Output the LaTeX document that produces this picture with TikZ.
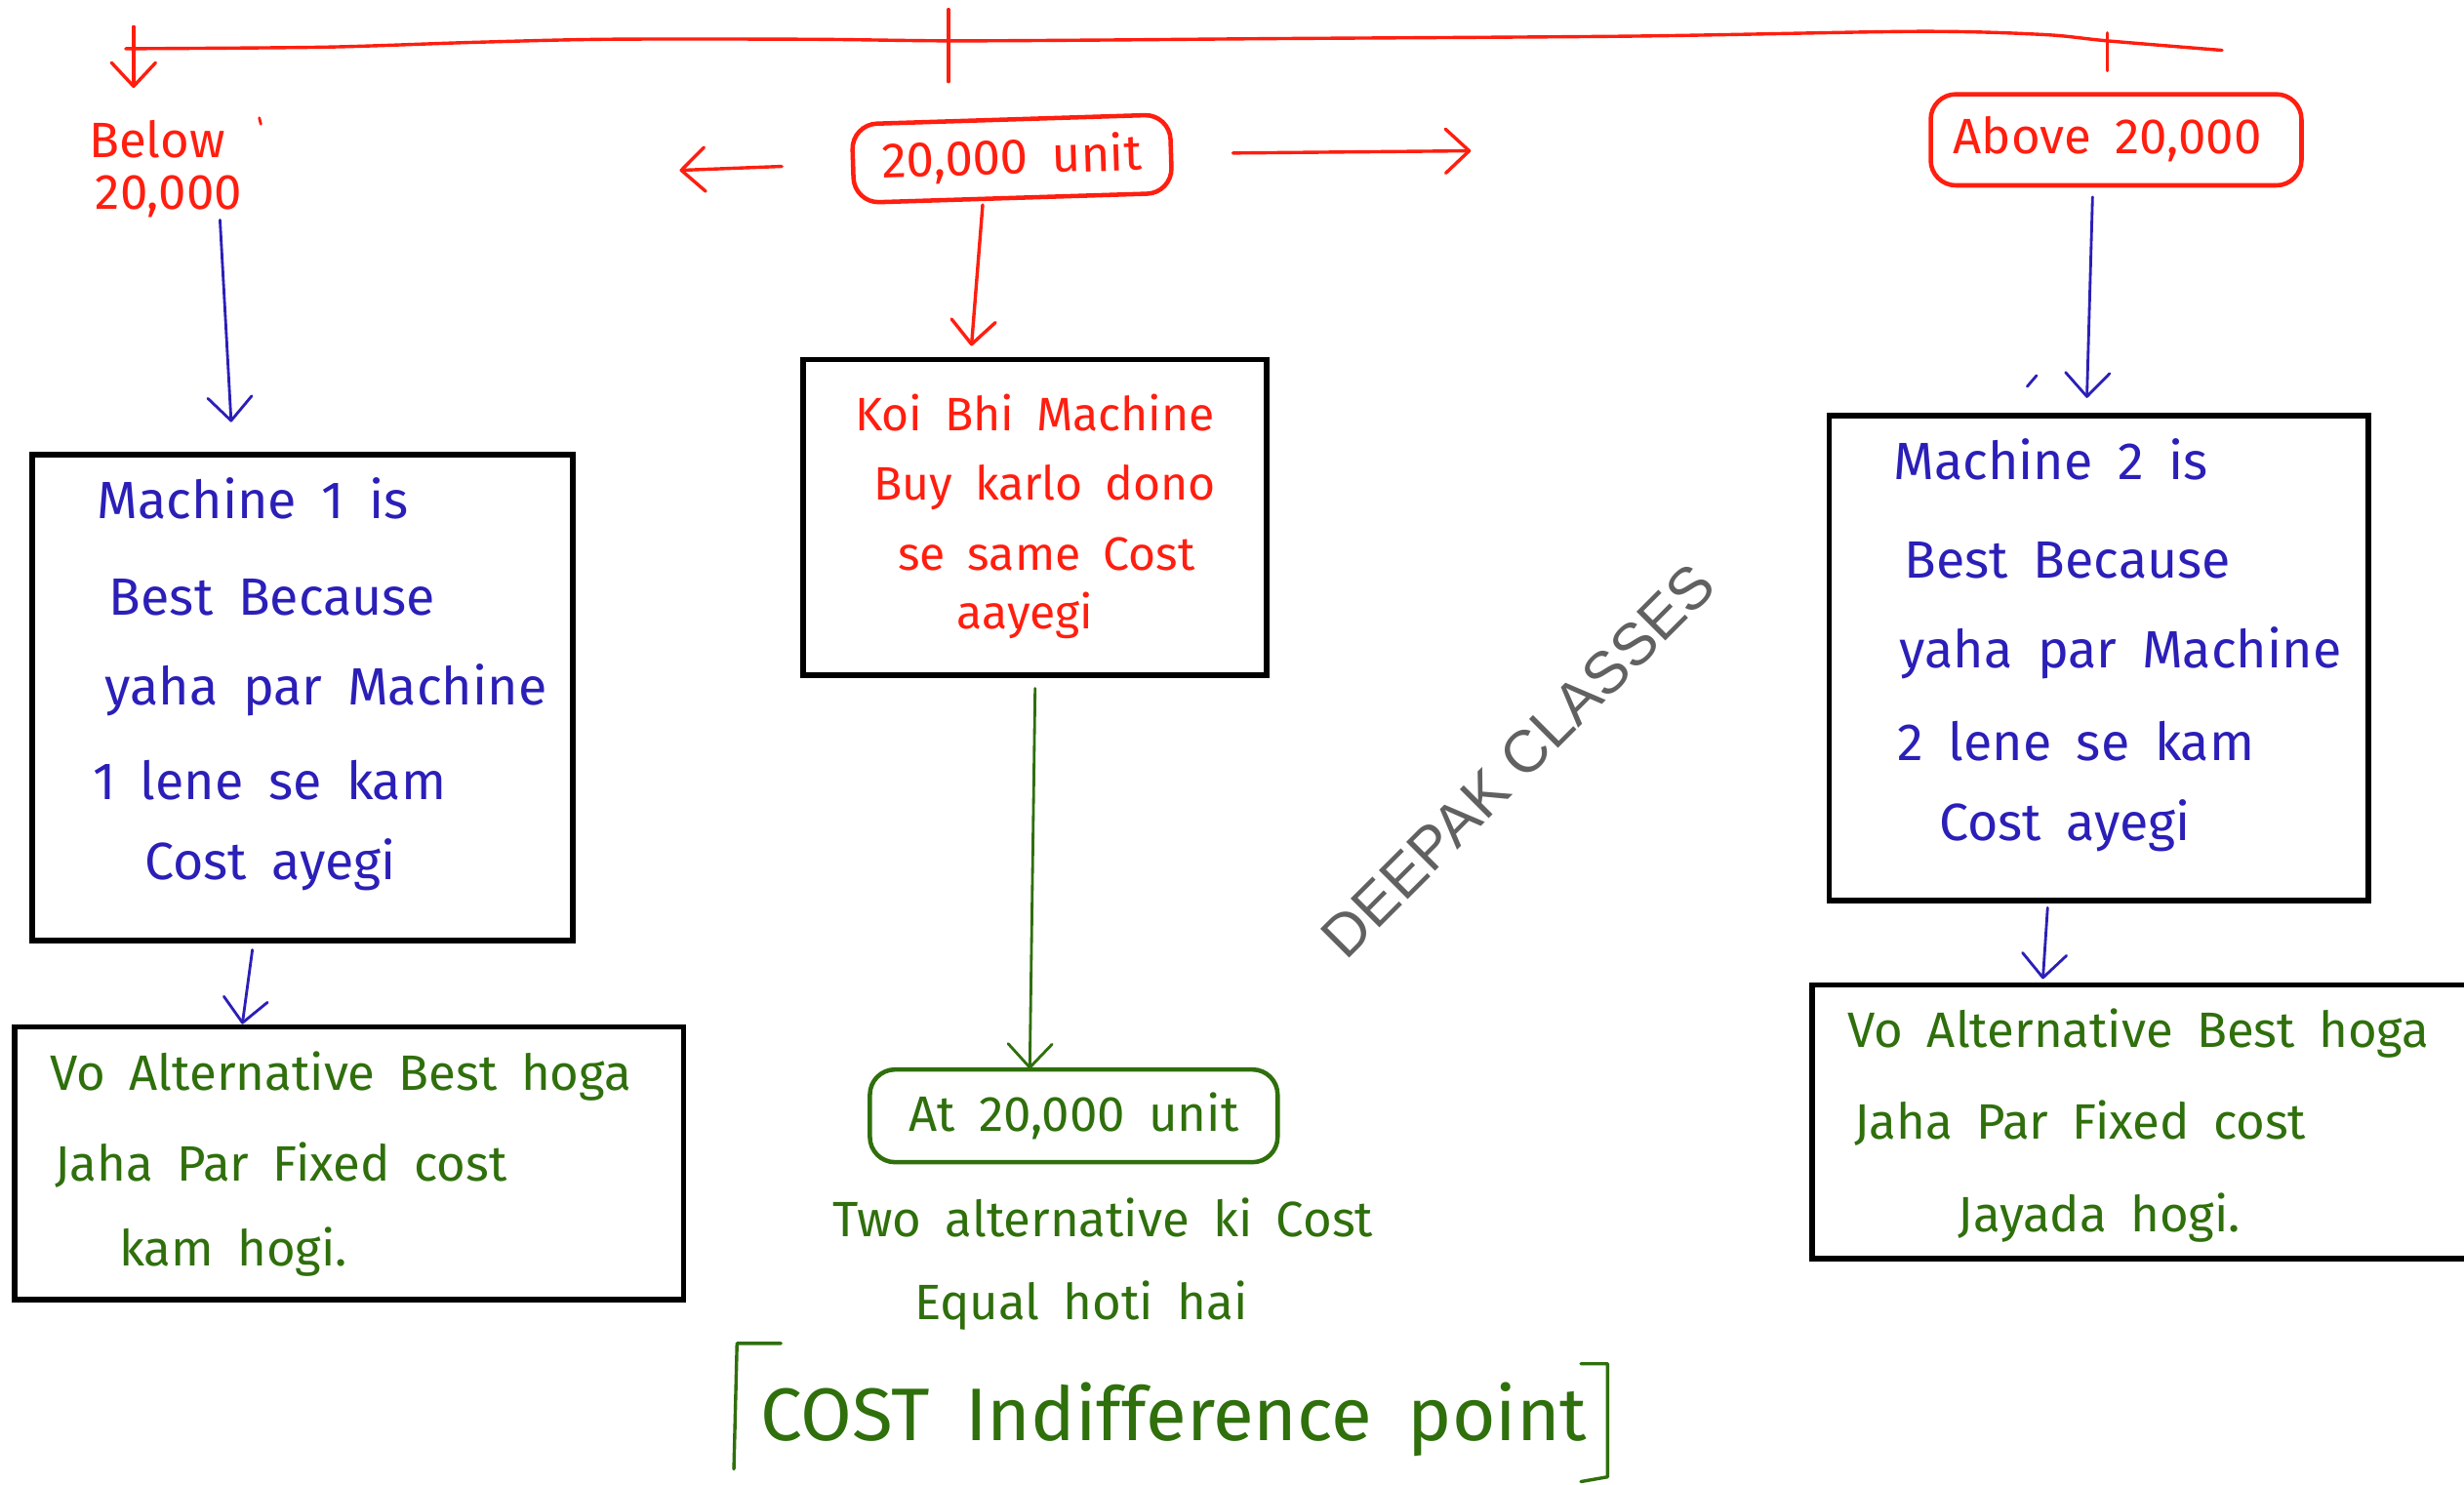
\documentclass[tikz,border=0pt]{standalone}
\usepackage{fontspec}
\setmainfont{Fira Sans}[WordSpace=1.8]
\newfontfamily\markfont{Liberation Sans}
\usetikzlibrary{arrows.meta}
\definecolor{inkred}{HTML}{FF1E0F}
\definecolor{inkblue}{HTML}{2B1FB8}
\definecolor{inkgreen}{HTML}{2F6F0C}
\newcommand\hsz[1]{\fontsize{#1}{#1}\selectfont}
\begin{document}
\begin{tikzpicture}[x=0.02cm, y=-0.02cm,
  ink/.style={line width=1.2pt, line cap=round, line join=round},
  barb/.style={-{Straight Barb[length=0.3cm, width=0.56cm, round]}},
  blackbox/.style={draw=black, line width=2pt, inner sep=0pt},
  pillbox/.style={draw, line width=1.6pt, rounded corners=0.32cm, inner sep=0pt, font=\hsz{18}},
  txt/.style={anchor=base west, inner sep=0pt, outer sep=0pt},
  bluetxt/.style={txt, text=inkblue, font=\hsz{19}},
  redtxt/.style={txt, text=inkred, font=\hsz{17}},
  greentxt/.style={txt, text=inkgreen, font=\hsz{18}},
  redline/.style={ink, draw=inkred},
  blueline/.style={ink, draw=inkblue, line width=1pt},
  greenline/.style={ink, draw=inkgreen, line width=1pt}]

\useasboundingbox (0,0) rectangle (1568,945);
\fill[white] (0,0) rectangle (1568,945);
\clip (0,0) rectangle (1568,945);

% scale line across the top with its marks
\draw[redline] plot[smooth, tension=0.5] coordinates {(80,31) (206,30) (300,27) (386,25) (515,25) (603,26) (700,25.5) (808,24.6) (1040,23) (1220,20) (1300,22) (1341,26) (1414,32)};
\coordinate (ltop) at (85,17);
\coordinate (ltip) at (85,56);
\coordinate (mtop) at (603.5,6);
\coordinate (mbot) at (603.5,52);
\coordinate (rtop) at (1341,21);
\coordinate (rbot0) at (1341,45);
\draw[redline, barb] (ltop) -- (ltip);
\draw[redline] (mtop) -- (mbot);
\draw[redline] (rtop) -- (rbot0);

% boxes
\node[blackbox, minimum width=6.88cm, minimum height=6.19cm] (box1) at (192.6,444.1) {};
\node[blackbox, minimum width=5.9cm, minimum height=4.02cm] (kbox) at (658.7,329.4) {};
\node[blackbox, minimum width=6.86cm, minimum height=6.17cm] (box2) at (1335.5,418.75) {};
\node[blackbox, minimum width=8.51cm, minimum height=3.47cm] (lbot) at (222.2,740.3) {};
\node[blackbox, minimum width=8.44cm, minimum height=3.48cm] (rbot) at (1364,713.9) {};

\node[pillbox, draw=inkred, text=inkred, minimum width=4.05cm, minimum height=1.0cm, rotate=1.8] (mid20) at (644,101) {20,000 unit};
\node[pillbox, draw=inkred, text=inkred, minimum width=4.72cm, minimum height=1.16cm] (above) at (1346.6,89) {\raisebox{0.12cm}{Above 20,000}\hspace*{0.22cm}};
\node[pillbox, draw=inkgreen, text=inkgreen, minimum width=5.19cm, minimum height=1.18cm] (at20) at (683.3,710.2) {At 20,000 unit};

% left heading
\node[txt, text=inkred, font=\hsz{18}] (below1) at (56.6,100) {Below};
\node[txt, text=inkred, font=\hsz{18}] (below2) at (60.8,133.4) {20,000};
\draw[redline, line width=1pt] (165,75) -- (166,79);

% left box text
\node[bluetxt] (l1) at (62,330) {Machine 1 is};
\node[bluetxt] (l2) at (69.5,391.5) {Best Because};
\node[bluetxt] (l3) at (67,448.5) {yaha par Machine};
\node[bluetxt] (l4) at (59,509) {1 lene se kam};
\node[bluetxt] (l5) at (92,560) {Cost ayegi};

% middle box text
\node[redtxt] (k1) at (544,274) {Koi Bhi Machine};
\node[redtxt] (k2) at (556,318) {Buy karlo dono};
\node[redtxt] (k3) at (571.5,363) {se same Cost};
\node[redtxt] (k4) at (609,400) {aayegi};

% right box text
\node[bluetxt] (r1) at (1205,305) {Machine 2 is};
\node[bluetxt] (r2) at (1212,368) {Best Because};
\node[bluetxt] (r3) at (1209,425) {yaha par Machine};
\node[bluetxt] (r4) at (1207.5,484) {2 lene se kam};
\node[bluetxt] (r5) at (1234,535) {Cost ayegi};

% bottom box texts
\node[greentxt] (lb1) at (32,694) {Vo Alternative Best hoga};
\node[greentxt] (lb2) at (35,752) {Jaha Par Fixed cost};
\node[greentxt] (lb3) at (76,805.5) {kam hogi.};
\node[greentxt] (rb1) at (1176,666.8) {Vo Alternative Best hoga};
\node[greentxt] (rb2) at (1180,725) {Jaha Par Fixed cost};
\node[greentxt] (rb3) at (1246,783.8) {Jayada hogi.};

% indifference note
\node[greentxt] (eq1) at (530,787) {Two alternative ki Cost};
\node[greentxt] (eq2) at (582,839.6) {Equal hoti hai};
\node[txt, text=inkgreen, font=\hsz{27}] (cip) at (484,917) {COST Indifference point};
\draw[greenline, line width=1.2pt] (497,855) -- (469,855) -- (467,935);
\draw[greenline, line width=1.2pt] (1006,868) -- (1023,868) -- (1023,940) -- (1006,943);

% watermark
\node[font=\markfont\hsz{21.5}, text=black!62, rotate=45] (mark) at (966,484) {DEEPAK CLASSES};

% connectors
\coordinate (lefttip) at (432.5,108.4);
\coordinate (righttip) at (936,96);
\draw[redline, barb, shorten <=0.88cm] (mid20.west) -- (lefttip);
\draw[redline, barb, shorten <=0.76cm] (mid20.east) -- (righttip);
\draw[redline, barb] ([xshift=-0.39cm, yshift=-0.06cm]mid20.south) -- ([xshift=-0.81cm, yshift=0.14cm]kbox.north);

\coordinate (b1tail) at (140,140);
\draw[blueline, barb] (b1tail) -- ([xshift=-0.91cm, yshift=0.38cm]box1.north);
\draw[blueline, barb] ([xshift=-0.64cm, yshift=-0.08cm]box1.south) -- ([xshift=-1.36cm]lbot.north);

\draw[greenline, barb] ([yshift=-0.13cm]kbox.south) -- ([xshift=-0.56cm, yshift=-0.02cm]at20.north);

\draw[blueline, barb] ([xshift=-0.3cm, yshift=-0.12cm]above.south) -- ([xshift=-0.15cm, yshift=0.19cm]box2.north);
\draw[blueline] (1290,246) -- (1296,239);
\draw[blueline, barb] ([xshift=-0.65cm, yshift=-0.06cm]box2.south) -- ([xshift=-1.28cm, yshift=0.04cm]rbot.north);

\end{tikzpicture}
\end{document}
